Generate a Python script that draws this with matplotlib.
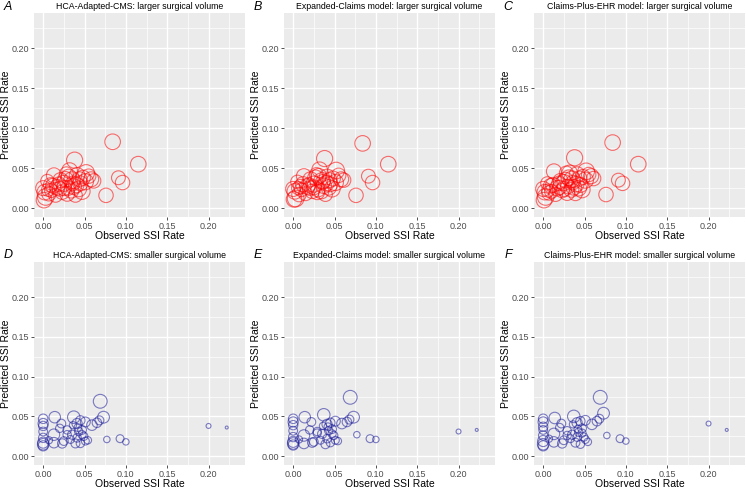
import matplotlib.pyplot as plt
from matplotlib.ticker import MultipleLocator

plt.rcParams['font.family'] = ['Liberation Sans', 'DejaVu Sans']

# larger surgical volume hospitals
obs_large = [0.084, 0.115, 0.091, 0.096, 0.076, 0.038, 0.058, 0.052, 0.047, 0.013,
             0.032, 0.001, 0.003, 0.000, 0.009, 0.017, 0.025, 0.029, 0.035, 0.041,
             0.045, 0.037, 0.023, 0.015, 0.007, 0.005, 0.021, 0.031, 0.051, 0.061,
             0.025, 0.030, 0.040, 0.048, 0.010, 0.019, 0.027, 0.034, 0.043, 0.055,
             0.002, 0.012, 0.036, 0.028, 0.044, 0.020, 0.006, 0.039]
pred_large_hca = [0.083, 0.055, 0.038, 0.032, 0.016, 0.060, 0.036, 0.044, 0.021, 0.041,
                  0.047, 0.010, 0.014, 0.025, 0.029, 0.026, 0.031, 0.018, 0.035, 0.041,
                  0.031, 0.027, 0.020, 0.016, 0.018, 0.034, 0.035, 0.039, 0.033, 0.034,
                  0.025, 0.025, 0.029, 0.038, 0.022, 0.030, 0.036, 0.022, 0.024, 0.040,
                  0.020, 0.028, 0.031, 0.043, 0.036, 0.024, 0.023, 0.016]
pred_large_exp = [0.081, 0.055, 0.040, 0.032, 0.016, 0.062, 0.036, 0.047, 0.024, 0.040,
                  0.048, 0.011, 0.012, 0.024, 0.027, 0.027, 0.030, 0.020, 0.034, 0.039,
                  0.030, 0.028, 0.021, 0.018, 0.017, 0.033, 0.036, 0.040, 0.032, 0.035,
                  0.026, 0.023, 0.031, 0.037, 0.023, 0.029, 0.038, 0.021, 0.026, 0.041,
                  0.021, 0.030, 0.033, 0.042, 0.035, 0.025, 0.025, 0.017]
pred_large_ehr = [0.082, 0.055, 0.035, 0.031, 0.017, 0.063, 0.040, 0.046, 0.023, 0.046,
                  0.044, 0.010, 0.014, 0.024, 0.028, 0.025, 0.032, 0.019, 0.036, 0.042,
                  0.029, 0.026, 0.022, 0.017, 0.019, 0.031, 0.034, 0.038, 0.035, 0.037,
                  0.024, 0.027, 0.030, 0.039, 0.021, 0.031, 0.035, 0.023, 0.025, 0.042,
                  0.020, 0.029, 0.032, 0.044, 0.037, 0.026, 0.022, 0.018]
vol_large = [700, 700, 550, 600, 600, 750, 650, 800, 750, 650,
             700, 700, 800, 650, 600, 700, 750, 650, 800, 700,
             650, 700, 600, 550, 600, 500, 650, 700, 750, 600,
             650, 600, 700, 650, 550, 600, 700, 650, 700, 600,
             700, 650, 600, 550, 650, 600, 500, 550]

# smaller surgical volume hospitals
obs_small = [0.069, 0.073, 0.014, 0.037, 0.000, 0.000, 0.000, 0.000, 0.000, 0.000,
             0.000, 0.000, 0.022, 0.020, 0.013, 0.013, 0.023, 0.029, 0.033, 0.041,
             0.045, 0.051, 0.059, 0.065, 0.068, 0.043, 0.047, 0.049, 0.051, 0.054,
             0.039, 0.045, 0.077, 0.093, 0.100, 0.200, 0.222, 0.035, 0.041, 0.047,
             0.029, 0.025, 0.007, 0.042, 0.036]
pred_small_hca = [0.069, 0.049, 0.049, 0.049, 0.047, 0.041, 0.038, 0.031, 0.023, 0.017,
                  0.015, 0.013, 0.041, 0.035, 0.027, 0.017, 0.016, 0.027, 0.021, 0.041,
                  0.045, 0.043, 0.039, 0.042, 0.045, 0.031, 0.033, 0.025, 0.019, 0.020,
                  0.016, 0.016, 0.021, 0.022, 0.018, 0.038, 0.036, 0.027, 0.023, 0.027,
                  0.033, 0.019, 0.020, 0.036, 0.039]
pred_small_exp = [0.074, 0.049, 0.049, 0.052, 0.047, 0.043, 0.039, 0.032, 0.024, 0.018,
                  0.016, 0.014, 0.043, 0.033, 0.026, 0.016, 0.017, 0.029, 0.020, 0.040,
                  0.042, 0.044, 0.041, 0.043, 0.046, 0.032, 0.034, 0.026, 0.020, 0.019,
                  0.015, 0.017, 0.027, 0.022, 0.021, 0.031, 0.033, 0.028, 0.022, 0.028,
                  0.031, 0.018, 0.021, 0.037, 0.038]
pred_small_ehr = [0.074, 0.054, 0.048, 0.050, 0.047, 0.043, 0.037, 0.033, 0.026, 0.019,
                  0.015, 0.013, 0.041, 0.036, 0.028, 0.018, 0.016, 0.026, 0.022, 0.042,
                  0.044, 0.045, 0.040, 0.044, 0.047, 0.030, 0.035, 0.024, 0.021, 0.018,
                  0.017, 0.015, 0.026, 0.022, 0.019, 0.041, 0.033, 0.027, 0.024, 0.029,
                  0.032, 0.020, 0.022, 0.034, 0.040]
vol_small = [550, 400, 380, 450, 260, 300, 250, 220, 250, 350,
             380, 300, 220, 200, 380, 320, 250, 200, 180, 300,
             250, 280, 320, 260, 230, 200, 220, 200, 180, 160,
             230, 200, 120, 180, 120, 70, 25, 240, 210, 190,
             200, 220, 150, 170, 150]

letters = ['A', 'B', 'C', 'D', 'E', 'F']
titles = ['HCA-Adapted-CMS: larger surgical volume',
          'Expanded-Claims model: larger surgical volume',
          'Claims-Plus-EHR model: larger surgical volume',
          'HCA-Adapted-CMS: smaller surgical volume',
          'Expanded-Claims model: smaller surgical volume',
          'Claims-Plus-EHR model: smaller surgical volume']

W, H = 746, 491
fig = plt.figure(figsize=(W / 100, H / 100), dpi=100)

col_left = [34, 284, 534]
col_width = 211
row_top = [13, 262]
row_height = [204, 203]

panels = [(obs_large, pred_large_hca, vol_large, 'red'),
          (obs_large, pred_large_exp, vol_large, 'red'),
          (obs_large, pred_large_ehr, vol_large, 'red'),
          (obs_small, pred_small_hca, vol_small, '#1a1a9a'),
          (obs_small, pred_small_exp, vol_small, '#1a1a9a'),
          (obs_small, pred_small_ehr, vol_small, '#1a1a9a')]

for i, (x, y, vol, col) in enumerate(panels):
    r, c = divmod(i, 3)
    left = col_left[c]
    top = row_top[r]
    h = row_height[r]
    ax = fig.add_axes([left / W, 1 - (top + h) / H, col_width / W, h / H])
    ax.set_facecolor('#EBEBEB')
    ax.scatter(x, y, s=[v * 0.18 for v in vol], facecolors='none',
               edgecolors=col, linewidths=0.8, alpha=0.55, zorder=3)
    ax.set_xlim(-0.0111, 0.2441)
    ax.set_ylim(-0.0111, 0.2441)
    ax.xaxis.set_major_locator(MultipleLocator(0.05))
    ax.yaxis.set_major_locator(MultipleLocator(0.05))
    ax.xaxis.set_minor_locator(MultipleLocator(0.025))
    ax.yaxis.set_minor_locator(MultipleLocator(0.025))
    ax.xaxis.set_major_formatter(lambda v, p: f'{v:.2f}')
    ax.yaxis.set_major_formatter(lambda v, p: f'{v:.2f}')
    ax.grid(which='major', color='white', linewidth=1.0, zorder=0)
    ax.grid(which='minor', color='white', linewidth=0.5, zorder=0)
    ax.set_axisbelow(True)
    for sp in ax.spines.values():
        sp.set_visible(False)
    ax.tick_params(which='major', length=2.5, width=0.6, color='#333333',
                   labelsize=6.5, labelcolor='#4D4D4D', pad=1.2)
    ax.tick_params(which='minor', length=0)
    ax.set_xlabel('Observed SSI Rate', fontsize=7.5, labelpad=0)
    ax.set_ylabel('Predicted SSI Rate', fontsize=7.5, labelpad=0.5)
    cx = (left + col_width / 2) / W
    ty = 1 - (top - 6.5) / H
    fig.text(cx, ty, titles[i], fontsize=6.3, ha='center', va='center')
    fig.text((left - 26) / W, ty, letters[i], fontsize=9, style='italic',
             ha='center', va='center')

fig.savefig('out.png', dpi=100)
